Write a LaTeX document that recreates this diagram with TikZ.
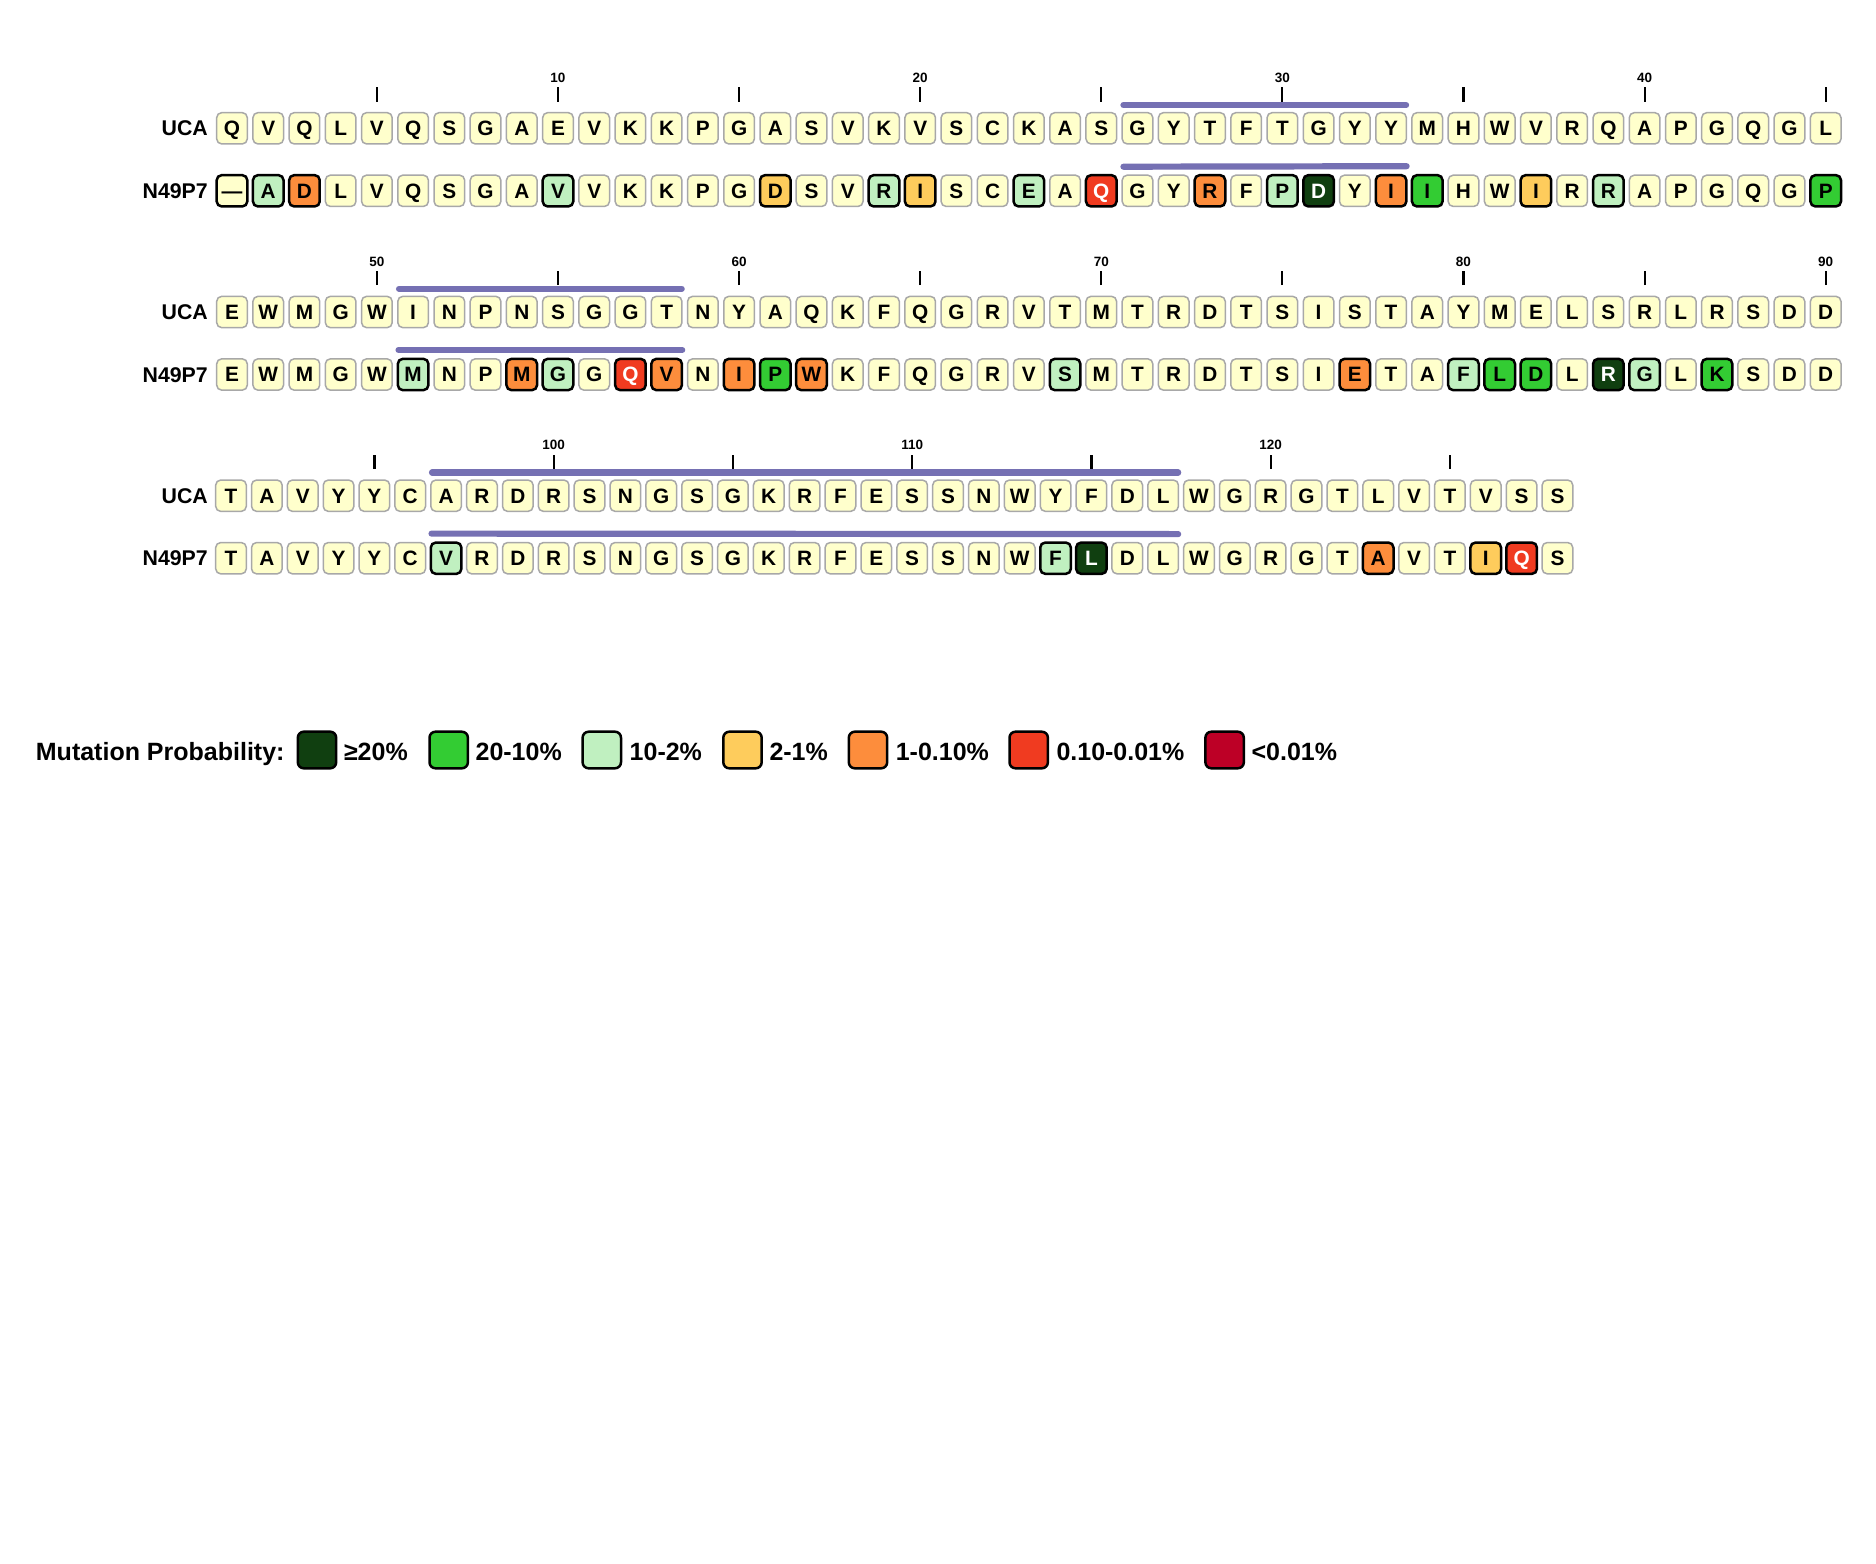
\documentclass[tikz,border=0pt]{standalone}
\usepackage{fontspec}
\setmainfont{Liberation Sans}
\definecolor{paleY}{HTML}{FFFFCC}
\definecolor{boxgray}{HTML}{A8A8A8}
\definecolor{cDG}{HTML}{103F10}
\definecolor{cG}{HTML}{33CC33}
\definecolor{cLG}{HTML}{C0F0C0}
\definecolor{cYl}{HTML}{FECC5C}
\definecolor{cOr}{HTML}{FD8D3C}
\definecolor{cRd}{HTML}{F03B20}
\definecolor{cDr}{HTML}{BD0026}
\definecolor{barP}{HTML}{7570B3}
\newcommand\mySeqRow[6]{%
  \foreach \a [count=\k] in {#5} {
    \pgfmathtruncatemacro\idx{#1+\k}
    \node[pn] (u\idx) at ({#2+(\k-1)*#3}, #4) {\a};
  }
  \foreach \a/\st [count=\k] in {#6} {
    \pgfmathtruncatemacro\idx{#1+\k}
    \node[\st] (m\idx) at ({#2+(\k-1)*#3}, {#4+62.5}) {\a};
  }
}
\begin{document}
\begin{tikzpicture}[x=1pt,y=-1pt,
  base/.style={rounded corners=5pt, minimum width=30.6pt, minimum height=31.3pt,
    inner sep=0pt, font=\fontsize{20.8}{24}\selectfont\bfseries,
    text height=14.9pt, text depth=0pt},
  pn/.style={base, fill=paleY, draw=boxgray, line width=1.5pt},
  pmut/.style={base, draw=black, line width=2.5pt},
  pdash/.style={pmut, fill=paleY},
  pdg/.style={pmut, fill=cDG, text=white},
  pg/.style={pmut, fill=cG},
  plg/.style={pmut, fill=cLG},
  pyl/.style={pmut, fill=cYl},
  por/.style={pmut, fill=cOr},
  prd/.style={pmut, fill=cRd, text=white},
  rowlab/.style={anchor=east, inner sep=0pt, font=\fontsize{21.3}{25}\selectfont\bfseries,
    text height=15.2pt, text depth=0pt},
  ticklab/.style={inner sep=0pt, font=\fontsize{13.5}{16}\selectfont\bfseries,
    text height=9.7pt, text depth=0pt},
  tickmark/.style={draw=black, line width=2.2pt},
  cdr/.style={draw=barP, line width=6.2pt, line cap=round},
  legbox/.style={rounded corners=6pt, minimum width=38.4pt, minimum height=36.6pt,
    inner sep=0pt, draw=black, line width=2.5pt},
  legtext/.style={anchor=west, inner sep=0pt, font=\fontsize{25}{29}\selectfont\bfseries,
    text height=17.9pt, text depth=0pt}
]
\fill[white] (0,0) rectangle (1876,1563);
\useasboundingbox (0,0) rectangle (1876,1563);

% ---- row 1 ----
\mySeqRow{0}{232}{36.22}{128.3}
 {Q,V,Q,L,V,Q,S,G,A,E,V,K,K,P,G,A,S,V,K,V,S,C,K,A,S,G,Y,T,F,T,G,Y,Y,M,H,W,V,R,Q,A,P,G,Q,G,L}
 {—/pdash,A/plg,D/por,L/pn,V/pn,Q/pn,S/pn,G/pn,A/pn,V/plg,V/pn,K/pn,K/pn,P/pn,G/pn,D/pyl,S/pn,V/pn,R/plg,I/pyl,S/pn,C/pn,E/plg,A/pn,Q/prd,G/pn,Y/pn,R/por,F/pn,P/plg,D/pdg,Y/pn,I/por,I/pg,H/pn,W/pn,I/pyl,R/pn,R/plg,A/pn,P/pn,G/pn,Q/pn,G/pn,P/pg}
\node[rowlab] (lu1) at (208,128.3) {UCA};
\node[rowlab] (lm1) at (208,190.8) {N49P7};

% ---- row 2 ----
\mySeqRow{45}{232}{36.22}{312}
 {E,W,M,G,W,I,N,P,N,S,G,G,T,N,Y,A,Q,K,F,Q,G,R,V,T,M,T,R,D,T,S,I,S,T,A,Y,M,E,L,S,R,L,R,S,D,D}
 {E/pn,W/pn,M/pn,G/pn,W/pn,M/plg,N/pn,P/pn,M/por,G/plg,G/pn,Q/prd,V/por,N/pn,I/por,P/pg,W/por,K/pn,F/pn,Q/pn,G/pn,R/pn,V/pn,S/plg,M/pn,T/pn,R/pn,D/pn,T/pn,S/pn,I/pn,E/por,T/pn,A/pn,F/plg,L/pg,D/pg,L/pn,R/pdg,G/plg,L/pn,K/pg,S/pn,D/pn,D/pn}
\node[rowlab] (lu2) at (208,312) {UCA};
\node[rowlab] (lm2) at (208,374.5) {N49P7};

% ---- row 3 ----
\mySeqRow{90}{231}{35.85}{495.7}
 {T,A,V,Y,Y,C,A,R,D,R,S,N,G,S,G,K,R,F,E,S,S,N,W,Y,F,D,L,W,G,R,G,T,L,V,T,V,S,S}
 {T/pn,A/pn,V/pn,Y/pn,Y/pn,C/pn,V/plg,R/pn,D/pn,R/pn,S/pn,N/pn,G/pn,S/pn,G/pn,K/pn,R/pn,F/pn,E/pn,S/pn,S/pn,N/pn,W/pn,F/plg,L/pdg,D/pn,L/pn,W/pn,G/pn,R/pn,G/pn,T/pn,A/por,V/pn,T/pn,I/pyl,Q/prd,S/pn}
\node[rowlab] (lu3) at (208,495.7) {UCA};
\node[rowlab] (lm3) at (208,558.2) {N49P7};

% ---- ticks and numbers ----
\foreach \t in {5,10,...,125}
  \draw[tickmark] ([yshift=10.4pt]u\t.north) -- ([yshift=24.6pt]u\t.north);
\foreach \t in {10,20,...,120}
  \node[ticklab] (tl\t) at ([yshift=34.4pt]u\t.north) {\t};

% ---- CDR bars ----
\foreach \s/\e in {26/33,51/58,97/117} {
  \draw[cdr] ([shift={(2pt,6.8pt)}]u\s.north west) -- ([shift={(-1pt,6.8pt)}]u\e.north east);
  \draw[cdr] ([shift={(2pt,7.7pt)}]m\s.north west) -- ([shift={(-1pt,7.7pt)}]m\e.north east);
}

% ---- legend ----
\node[legtext] (legtitle) at (35.7,751.7) {Mutation Probability:};
\node[legbox, fill=cDG] (lb1) at (317,750) {};
\node[legtext] (lt1) at (343.8,751.7) {≥20\%};
\node[legbox, fill=cG] (lb2) at (448.7,750) {};
\node[legtext] (lt2) at (475.4,751.7) {20-10\%};
\node[legbox, fill=cLG] (lb3) at (601.8,750) {};
\node[legtext] (lt3) at (629.5,751.7) {10-2\%};
\node[legbox, fill=cYl] (lb4) at (742.5,750) {};
\node[legtext] (lt4) at (769.3,751.7) {2-1\%};
\node[legbox, fill=cOr] (lb5) at (868,750) {};
\node[legtext] (lt5) at (895.6,751.7) {1-0.10\%};
\node[legbox, fill=cRd] (lb6) at (1028.7,750) {};
\node[legtext] (lt6) at (1056.3,751.7) {0.10-0.01\%};
\node[legbox, fill=cDr] (lb7) at (1224.6,750) {};
\node[legtext] (lt7) at (1251.4,751.7) {<0.01\%};
\end{tikzpicture}
\end{document}
